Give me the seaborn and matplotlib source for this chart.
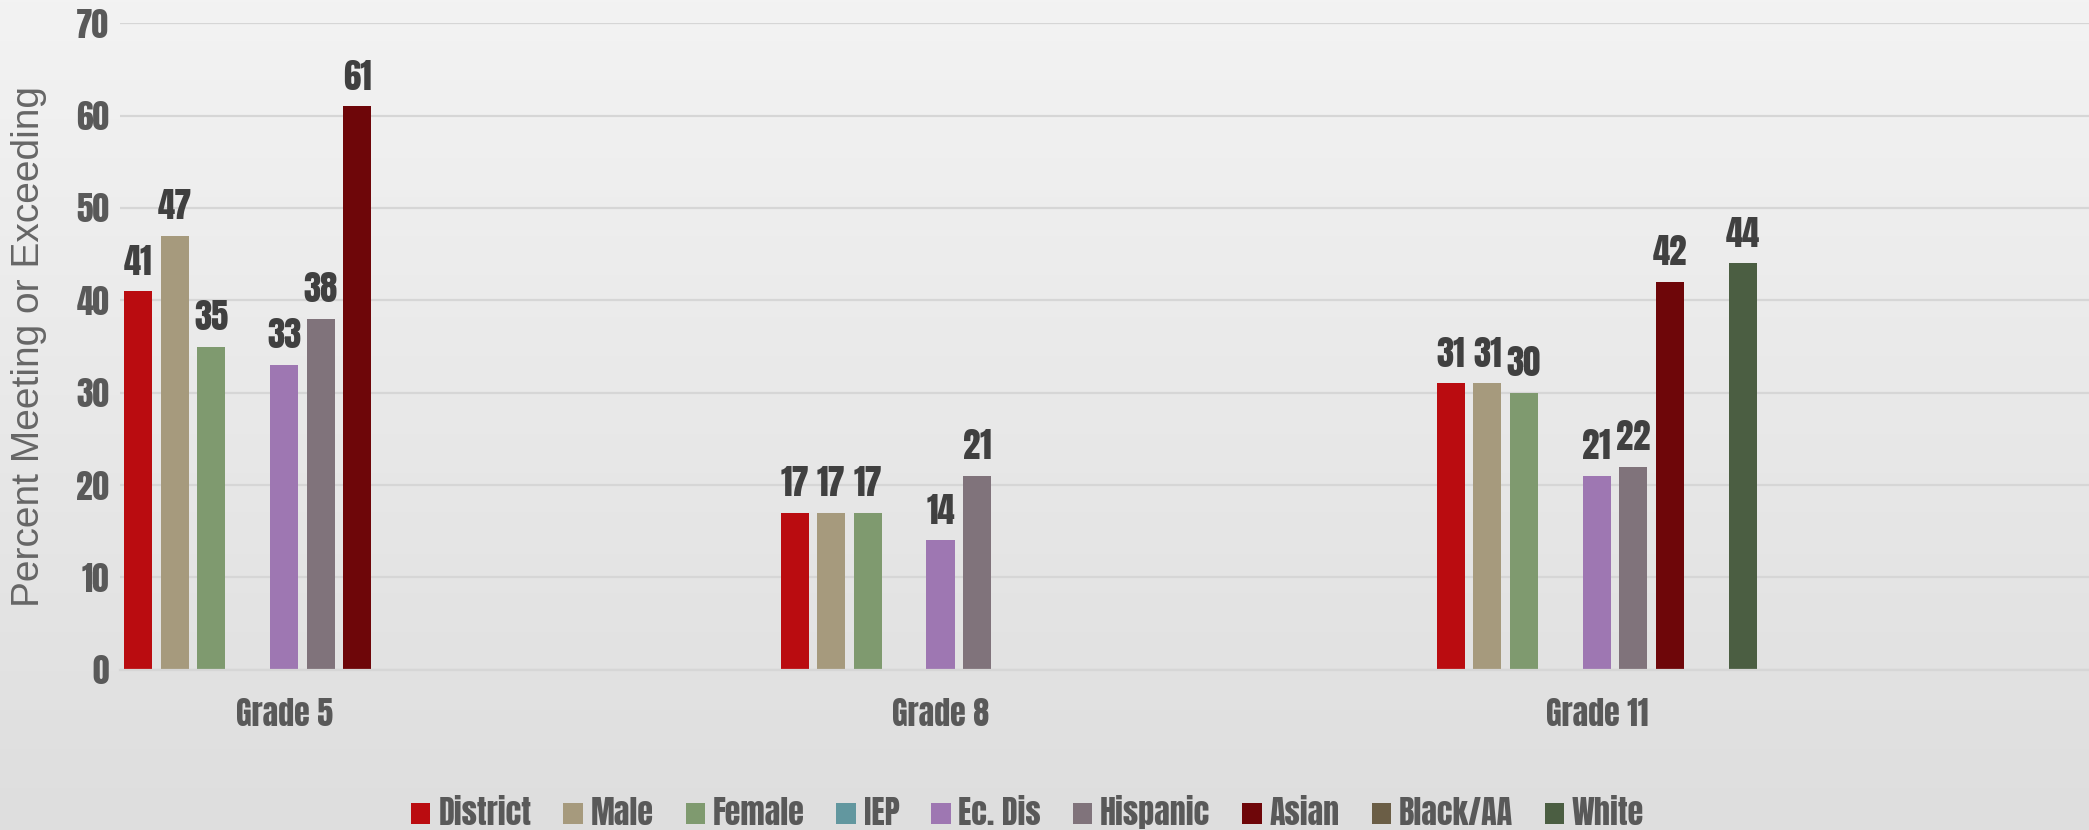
import numpy as np
import pandas as pd
import matplotlib
matplotlib.use("Agg")
import matplotlib.pyplot as plt
from matplotlib.patches import Patch
from matplotlib.ticker import FixedLocator
import seaborn as sns

# categories (blank slots keep the wide spacing between grades)
grades = ["Grade 5", " ", "Grade 8", "  ", "Grade 11", "   "]
groups = ["District", "Male", "Female", "IEP", "Ec. Dis", "Hispanic", "Asian", "Black/AA", "White"]
colors = ["#BA0C10", "#A69A7D", "#7F9A6F", "#62979F", "#9E77B2", "#80737B", "#6E0609", "#6B5E46", "#4B5E42"]

# values per group for Grade 5, Grade 8, Grade 11 (None = no bar)
district = [41, 17, 31]
male = [47, 17, 31]
female = [35, 17, 30]
iep = [None, None, None]
ec_dis = [33, 14, 21]
hispanic = [38, 21, 22]
asian = [61, None, 42]
black_aa = [None, None, None]
white = [None, None, 44]

series = [district, male, female, iep, ec_dis, hispanic, asian, black_aa, white]
shown = ["Grade 5", "Grade 8", "Grade 11"]

rows = []
for g, vals in zip(groups, series):
    for grade, v in zip(shown, vals):
        if v is not None:
            rows.append({"grade": grade, "group": g, "pct": v})
df = pd.DataFrame(rows)

sns.set_theme(style="white")
narrow = ["Anton", "Oswald", "Barlow Condensed", "DejaVu Sans"]

fig = plt.figure(figsize=(20.89, 8.30), dpi=100)
fig.patch.set_facecolor("#e9e9e9")

# soft background gradient
bg = fig.add_axes([0, 0, 1, 1], zorder=-10)
grad = np.linspace(0, 1, 256).reshape(-1, 1)
bg.imshow(grad, aspect="auto", cmap=matplotlib.colors.LinearSegmentedColormap.from_list(
    "bg", ["#f3f3f3", "#dedede"]), extent=[0, 1, 0, 1], origin="upper")
bg.axis("off")

ax = fig.add_axes([0.0575, 0.193, 0.9425, 0.779])
ax.patch.set_alpha(0)

sns.barplot(data=df, x="grade", y="pct", hue="group", order=grades, hue_order=groups,
            palette=colors, width=1.0, gap=0.23, errorbar=None, legend=False, ax=ax,
            saturation=1, linewidth=0)

for cont in ax.containers:
    ax.bar_label(cont, fmt="%d", padding=9, fontsize=25,
                 color="#404040", family=narrow)

ax.set_ylim(0, 70)
ax.set_yticks(range(0, 71, 10))
ax.grid(axis="y", color="#d6d6d6", linewidth=1.6)
ax.set_axisbelow(True)
for s in ["top", "right", "left"]:
    ax.spines[s].set_visible(False)
ax.spines["bottom"].set_color("#d6d6d6")
ax.spines["bottom"].set_linewidth(1.6)

ax.xaxis.set_minor_locator(FixedLocator(np.arange(-0.5, 6, 1)))
ax.tick_params(axis="x", which="major", length=0, pad=20)
ax.tick_params(axis="x", which="minor", length=10, width=1.2, color="#d0d0d0", direction="out")
ax.tick_params(axis="y", length=0, pad=8)
for lab in ax.get_xticklabels():
    lab.set_fontsize(23)
    lab.set_color("#595959")
    lab.set_family(narrow)
for lab in ax.get_yticklabels():
    lab.set_fontsize(24)
    lab.set_color("#595959")
    lab.set_family(narrow)

ax.set_xlabel("")
ax.set_ylabel("Percent Meeting or Exceeding", fontsize=28, color="#666666",
              family=["Liberation Sans", "DejaVu Sans"])
ax.yaxis.set_label_coords(-0.037, 0.5)

handles = [Patch(facecolor=c, edgecolor="none", label=g) for g, c in zip(groups, colors)]
leg = fig.legend(handles=handles, loc="center", bbox_to_anchor=(0.492, 0.022), ncol=9,
                 frameon=False, handlelength=0.6, handleheight=0.6, handletextpad=0.25,
                 columnspacing=1.0, prop={"family": narrow, "size": 23})
for t in leg.get_texts():
    t.set_color("#595959")

fig.savefig("out.png", dpi=100, facecolor=fig.get_facecolor())
